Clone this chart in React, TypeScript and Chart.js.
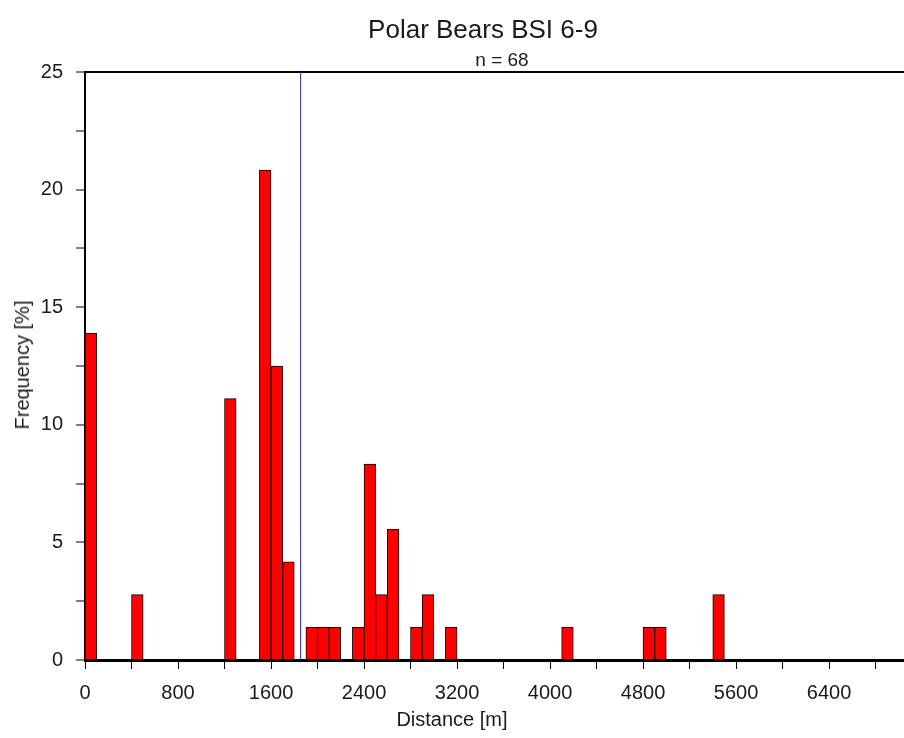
import React, { useEffect, useRef } from "react";
import { Chart, registerables } from "chart.js";

Chart.register(...registerables);

// Histogram bins (start of each 100 m bin) and their frequency in percent
const binStarts = [0, 400, 1200, 1500, 1600, 1700, 1900, 2000, 2100, 2300, 2400, 2500, 2600, 2800, 2900, 3100, 4100, 4800, 4900, 5400];
const frequencies = [13.89, 2.78, 11.11, 20.83, 12.5, 4.17, 1.39, 1.39, 1.39, 1.39, 8.33, 2.78, 5.56, 1.39, 2.78, 1.39, 1.39, 1.39, 1.39, 2.78];
const binWidth = 100;

// Mean distance marker
const meanDistance = 1855;

// Axis ticks: marks every 400 m, labels every 800 m
const xTicks = [0, 400, 800, 1200, 1600, 2000, 2400, 2800, 3200, 3600, 4000, 4400, 4800, 5200, 5600, 6000, 6400, 6800];
const xLabelStep = 800;
const xMax = 7045;
const yTicks = [0, 2.5, 5, 7.5, 10, 12.5, 15, 17.5, 20, 22.5, 25];
const yLabelStep = 5;
const yMax = 25;

const titleText = "Polar Bears BSI 6-9";
const subtitleText = "n = 68";
const xTitleText = "Distance [m]";
const yTitleText = "Frequency [%]";

const FONT = "'Liberation Sans', Arial, Helvetica, sans-serif";
const TEXT_COLOR = "#1a1a1a";

export default function App() {
  const canvasRef = useRef<HTMLCanvasElement | null>(null);

  useEffect(() => {
    const canvas = canvasRef.current;
    if (!canvas) return;

    const barData = binStarts.map((s, i) => ({ x: s + binWidth / 2, y: frequencies[i] }));

    const chart = new Chart(canvas, {
      type: "bar",
      data: {
        datasets: [
          {
            type: "line",
            data: [
              { x: meanDistance, y: 0 },
              { x: meanDistance, y: yMax },
            ],
            borderColor: "#2a2a9c",
            borderWidth: 1,
            pointRadius: 0,
            order: 0,
          } as any,
          {
            type: "bar",
            data: barData,
            backgroundColor: "#ff0000",
            borderColor: "#1a0000",
            borderWidth: 1,
            barPercentage: 1,
            categoryPercentage: 1,
            order: 1,
          } as any,
        ],
      },
      options: {
        animation: false,
        responsive: false,
        maintainAspectRatio: false,
        layout: { padding: { top: 72, left: 0, right: 0, bottom: 0 } },
        plugins: {
          legend: { display: false },
          tooltip: { enabled: false },
          title: { display: false },
        },
        scales: {
          x: {
            type: "linear",
            min: 0,
            max: xMax,
            offset: false,
            z: 1,
            afterBuildTicks: (s: any) => {
              s.ticks = xTicks.map((v) => ({ value: v }));
            },
            ticks: {
              autoSkip: false,
              maxRotation: 0,
              padding: 12,
              color: TEXT_COLOR,
              font: { family: FONT, size: 20 },
              callback: (v: any) => (Number(v) % xLabelStep === 0 ? String(v) : ""),
            },
            grid: {
              offset: false,
              drawOnChartArea: false,
              tickLength: 9,
              tickColor: "#000",
              tickWidth: 1,
            },
            border: { color: "#000", width: 3 },
            afterFit: (s: any) => {
              s.height = 78;
            },
          },
          y: {
            min: 0,
            max: yMax,
            z: 1,
            afterBuildTicks: (s: any) => {
              s.ticks = yTicks.map((v) => ({ value: v }));
            },
            ticks: {
              autoSkip: false,
              padding: 13,
              color: TEXT_COLOR,
              font: { family: FONT, size: 20 },
              callback: (v: any) => (Number(v) % yLabelStep === 0 ? String(v) : ""),
            },
            grid: {
              color: (ctx: any) => (ctx.tick && ctx.tick.value === yMax ? "#000" : "rgba(0,0,0,0)"),
              lineWidth: 2,
              tickLength: 9,
              tickColor: "#000",
              tickWidth: 1,
            },
            border: { color: "#000", width: 2 },
            afterFit: (s: any) => {
              s.width = 85;
            },
          },
        },
      } as any,
    });

    return () => chart.destroy();
  }, []);

  const base: React.CSSProperties = {
    position: "absolute",
    fontFamily: FONT,
    color: TEXT_COLOR,
    whiteSpace: "nowrap",
  };

  return (
    <div style={{ position: "fixed", left: 0, top: 0, width: 904, height: 738, background: "#fff" }}>
      <canvas ref={canvasRef} width={904} height={738} style={{ position: "absolute", left: 0, top: 0 }} />
      <div style={{ ...base, left: 483, top: 16, fontSize: 26, lineHeight: "26px", transform: "translateX(-50%)" }}>
        {titleText}
      </div>
      <div style={{ ...base, left: 502, top: 50, fontSize: 19, lineHeight: "19px", transform: "translateX(-50%)" }}>
        {subtitleText}
      </div>
      <div style={{ ...base, left: 452, top: 709, fontSize: 20, lineHeight: "20px", transform: "translateX(-50%)" }}>
        {xTitleText}
      </div>
      <div
        style={{
          ...base,
          left: 22,
          top: 365,
          fontSize: 20,
          lineHeight: "20px",
          transform: "translate(-50%, -50%) rotate(-90deg)",
        }}
      >
        {yTitleText}
      </div>
    </div>
  );
}
